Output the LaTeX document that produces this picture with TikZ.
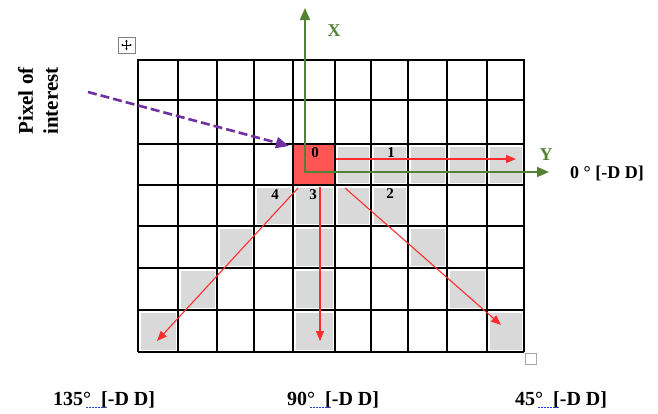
\documentclass[tikz,border=0pt]{standalone}
\usepackage{fontspec}
\setmainfont{Liberation Serif}
\usetikzlibrary{arrows.meta}
\definecolor{cellgray}{RGB}{217,217,217}
\definecolor{pixred}{RGB}{255,85,85}
\definecolor{axisgreen}{RGB}{84,130,53}
\definecolor{dashpurple}{RGB}{112,48,160}
\definecolor{arrred}{RGB}{255,45,45}
\definecolor{spellblue}{RGB}{30,60,230}
\tikzset{
  gridline/.style={line width=1.8pt, black},
  axisline/.style={line width=1.8pt, axisgreen, {Triangle[length=12pt,width=10pt]}-{Triangle[length=12pt,width=10pt]}},
  axlabel/.style={font=\fontsize{18}{20}\selectfont\bfseries, text=axisgreen, inner sep=0pt},
  redarrow/.style={line width=1.1pt, arrred, -{Triangle[length=10pt,width=8pt]}},
  num/.style={font=\fontsize{15}{17}\selectfont\bfseries, inner sep=0pt},
  anglelabel/.style={font=\fontsize{20}{22}\selectfont\bfseries, inner sep=0pt, anchor=base west},
  spelldots/.style={spellblue, line width=1.5pt, dash pattern=on 1.5pt off 1.5pt},
  pointer/.style={line width=2.6pt, dashpurple, dash pattern=on 9pt off 4pt, -{Triangle[length=13pt,width=11pt]}},
  handlebox/.style={draw=gray, line width=0.9pt, fill=white},
}
\begin{document}
\begin{tikzpicture}[x=1pt,y=-1pt]
\useasboundingbox (0,0) rectangle (658,413);
\fill[white] (0,0) rectangle (658,413);
\def\xs{{138,178,217,254,293,335,371,408,447,487,524}}
\def\ys{{60,100,144,185,226,268,310,352}}
% gray cells
\foreach \c/\r in {6/3,7/3,8/3,9/3,10/3,4/4,5/4,6/4,7/4,3/5,5/5,8/5,2/6,5/6,9/6,1/7,5/7,10/7}{
  \pgfmathsetmacro\xa{\xs[\c-1]+2.5}
  \pgfmathsetmacro\xb{\xs[\c]-2.5}
  \pgfmathsetmacro\ya{\ys[\r-1]+2.5}
  \pgfmathsetmacro\yb{\ys[\r]-2.5}
  \fill[cellgray] (\xa,\ya) rectangle (\xb,\yb);
}
% pixel of interest
\fill[pixred] (293,144) rectangle (335,185);
% grid
\foreach \x in {138,178,217,254,293,335,371,408,447,487,524}
  \draw[gridline] (\x,60) -- (\x,352);
\foreach \y in {60,100,144,185,226,268,310,352}
  \draw[gridline] (138,\y) -- (524,\y);
\draw[line width=2.4pt] (137,60) -- (525,60);
% numbers
\node[num] (n0) at (315,153) {0};
\node[num] (n1) at (391,153) {1};
\node[num] (n2) at (390,194) {2};
\node[num] (n3) at (313,195) {3};
\node[num] (n4) at (275,195) {4};
% red direction arrows
\coordinate (s0) at (336,159);  \coordinate (e0) at (516,159);
\coordinate (s90) at (320,187); \coordinate (e90) at (320,341);
\coordinate (s135) at (298,188); \coordinate (e135) at (157,341);
\coordinate (s45) at (345,188); \coordinate (e45) at (501,325);
\draw[redarrow] (s0) -- (e0);
\draw[redarrow] (s90) -- (e90);
\draw[redarrow] (s135) -- (e135);
\draw[redarrow] (s45) -- (e45);
% green axes
\coordinate (o) at (305,172);
\coordinate (xtip) at (305,8);
\coordinate (ytip) at (549,172);
\draw[axisline] (xtip) -- (o) -- (ytip);
\node[axlabel] (xl) at (334,31) {X};
\node[axlabel] (yl) at (546,155) {Y};
% pointer
\node[font=\fontsize{21}{25}\selectfont\bfseries, align=center, rotate=90, inner sep=0pt] (poi) at (38,101) {Pixel of\\interest};
\coordinate (ps) at (88,92);
\coordinate (pe) at (289,146);
\draw[pointer] (ps) -- (pe);
% angle labels
\node[font=\fontsize{18}{20}\selectfont\bfseries, inner sep=0pt, anchor=base west] (l0) at (570,178) {0 ° [-D D]};
\node[anglelabel] (l135) at (53,405) {135°\ \ [-D D]};
\node[anglelabel] (l90) at (287,405) {90°\ \ [-D D]};
\node[anglelabel] (l45) at (515,405) {45°\ \ [-D D]};
\draw[spelldots] (86,407.5) -- (105,407.5);
\draw[spelldots] (310,407.5) -- (330,407.5);
\draw[spelldots] (538,407.5) -- (558,407.5);
% word handles
\draw[handlebox] (118,37) rectangle (135,53);
\draw[line width=0.8pt, {Latex[length=2.2pt,width=2.6pt]}-{Latex[length=2.2pt,width=2.6pt]}] (121,45) -- (132,45);
\draw[line width=0.8pt, {Latex[length=2.2pt,width=2.6pt]}-{Latex[length=2.2pt,width=2.6pt]}] (126.5,39.5) -- (126.5,50.5);
\draw[draw=gray!70, line width=1pt] (525,353) rectangle (536,364);
\end{tikzpicture}
\end{document}
